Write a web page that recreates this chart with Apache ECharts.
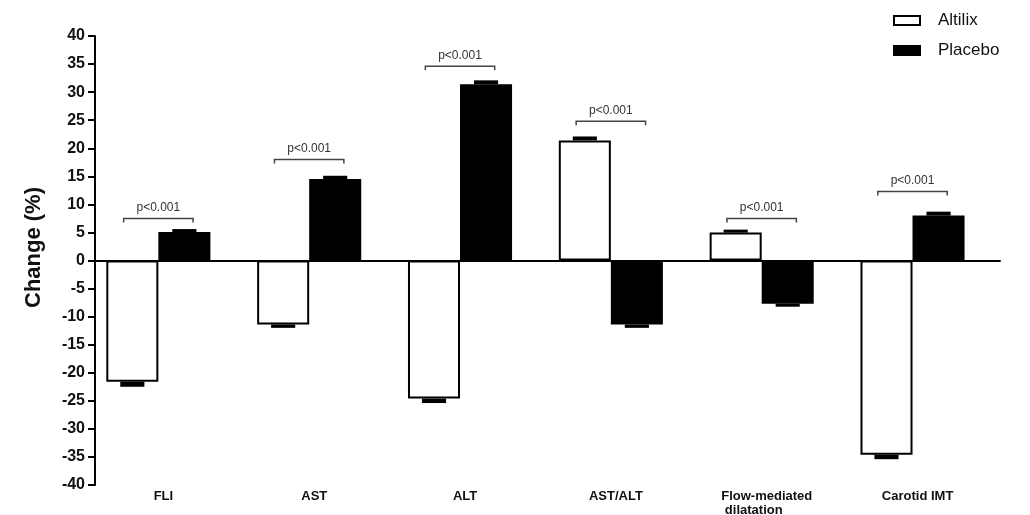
<!DOCTYPE html>
<html>
<head>
<meta charset="utf-8">
<script src="https://cdn.jsdelivr.net/npm/echarts@6/dist/echarts.min.js"></script>
<style>
html,body{margin:0;padding:0;background:#fff;}
#chart{width:1030px;height:515px;}
</style>
</head>
<body>
<div id="chart"></div>
<script>
// ---- data ----
const categories = ['FLI', 'AST', 'ALT', 'AST/ALT', 'Flow-mediated\n dilatation', 'Carotid IMT'];
const altilix = [-21.6, -11.4, -24.6, 21.4, 5.0, -34.6];
const altilixErr = [0.9, 0.6, 0.8, 0.7, 0.5, 0.8];
const placebo = [5.1, 14.5, 31.4, -11.4, -7.7, 8.0];
const placeboErr = [0.5, 0.6, 0.7, 0.6, 0.5, 0.7];
const pBracketY = [7.5, 18.0, 34.6, 24.8, 7.5, 12.3];
const pLabels = ['p<0.001', 'p<0.001', 'p<0.001', 'p<0.001', 'p<0.001', 'p<0.001'];
const yMin = -40, yMax = 40, yStep = 5;

// ---- layout constants (fractions of category band) ----
const BAR_W = 0.345, PAD_W = 0.16;
const GROUP_START = -(BAR_W * 2 + PAD_W) / 2;
const ALT_OFF = GROUP_START + BAR_W / 2;
const PLA_OFF = GROUP_START + BAR_W + BAR_W / 2;
const GROUP_MID = GROUP_START + BAR_W;
const CAP_W = 0.16;
const FONT = '"Liberation Sans", Arial, sans-serif';

function errRender(off) {
  return function (params, api) {
    const i = api.value(0), v = api.value(1), e = api.value(2);
    const band = api.size([1, 0])[0];
    const c = api.coord([i, 0]);
    const x = c[0] + off * band;
    const p1 = api.coord([i, v]);
    const p2 = api.coord([i, v + (v >= 0 ? e : -e)]);
    const w = band * CAP_W;
    return {
      type: 'rect',
      shape: { x: x - w / 2, y: Math.min(p1[1], p2[1]), width: w, height: Math.max(Math.abs(p2[1] - p1[1]), 3) },
      style: { fill: '#000' }
    };
  };
}

function bracketRender(params, api) {
  const i = api.value(0), yv = api.value(1);
  const band = api.size([1, 0])[0];
  const c = api.coord([i, yv]);
  const gx = c[0] + GROUP_MID * band;
  const half = band * 0.23;
  const y = c[1];
  return {
    type: 'group',
    children: [
      { type: 'polyline', shape: { points: [[gx - half, y + 4], [gx - half, y], [gx + half, y], [gx + half, y + 4]] },
        style: { stroke: '#444', lineWidth: 1.5, fill: null } },
      { type: 'text', style: { text: pLabels[params.dataIndex], x: gx, y: y - 5, align: 'center', verticalAlign: 'bottom',
        fontSize: 12, fontFamily: FONT, fill: '#333' } }
    ]
  };
}

const chart = echarts.init(document.getElementById('chart'), null, { renderer: 'canvas' });
chart.setOption({
  backgroundColor: '#fff',
  animation: false,
  grid: { left: 95, right: 30, top: 36, bottom: 30, containLabel: false, outerBoundsMode: 'none' },
  legend: {
    data: ['Altilix', 'Placebo'],
    orient: 'vertical',
    left: 893, top: 12, padding: 0,
    itemWidth: 26, itemHeight: 9, itemGap: 13,
    icon: 'rect',
    textStyle: { fontSize: 17, fontFamily: FONT, color: '#111', padding: [0, 0, 0, 13] }
  },
  xAxis: [
    {
      type: 'category', data: categories,
      axisLine: { onZero: true, lineStyle: { color: '#000', width: 2 } },
      axisTick: { show: false }, axisLabel: { show: false }, splitLine: { show: false }
    },
    {
      type: 'category', data: categories, position: 'bottom',
      axisLine: { show: false, onZero: false }, axisTick: { show: false }, splitLine: { show: false },
      axisLabel: {
        margin: 4, fontSize: 13, fontWeight: 'bold', fontFamily: FONT, color: '#111',
        lineHeight: 14, padding: [0, 14, 0, 0],
        formatter: function (v) {
          return v.split('\n').map(function (s) { return '{l|' + s + '}'; }).join('\n');
        },
        rich: { l: { align: 'left', fontSize: 13, fontWeight: 'bold', fontFamily: FONT, color: '#111', lineHeight: 14 } }
      }
    }
  ],
  yAxis: {
    type: 'value', min: yMin, max: yMax, interval: yStep,
    name: 'Change (%)', nameLocation: 'middle', nameGap: 50,
    nameTextStyle: { fontSize: 22, fontWeight: 'bold', fontFamily: FONT, color: '#111', padding: [0, 0, 0, 26] },
    axisLine: { show: true, lineStyle: { color: '#000', width: 2 } },
    axisTick: { show: true, length: 7, lineStyle: { color: '#000', width: 2 } },
    axisLabel: { fontSize: 16, fontWeight: 'bold', fontFamily: FONT, color: '#111', margin: 10 },
    splitLine: { show: false }
  },
  series: [
    { name: 'Altilix', type: 'bar', data: altilix, barWidth: (BAR_W * 100) + '%', barGap: '0%',
      itemStyle: { color: '#fff', borderColor: '#000', borderWidth: 2 }, z: 2 },
    { name: 'Placebo', type: 'bar', data: placebo, barWidth: (BAR_W * 100) + '%', barGap: '0%',
      itemStyle: { color: '#000', borderColor: '#000', borderWidth: 2 }, z: 2 },
    { name: 'spacer', type: 'bar', data: categories.map(function () { return '-'; }), barWidth: (PAD_W * 100) + '%', barGap: '0%',
      itemStyle: { color: 'transparent' }, silent: true },
    { name: 'AltilixErr', type: 'custom', renderItem: errRender(ALT_OFF), z: 3,
      data: altilix.map(function (v, i) { return [i, v, altilixErr[i]]; }) },
    { name: 'PlaceboErr', type: 'custom', renderItem: errRender(PLA_OFF), z: 3,
      data: placebo.map(function (v, i) { return [i, v, placeboErr[i]]; }) },
    { name: 'pvals', type: 'custom', renderItem: bracketRender, z: 4,
      data: pBracketY.map(function (v, i) { return [i, v]; }) }
  ]
});
</script>
</body>
</html>
